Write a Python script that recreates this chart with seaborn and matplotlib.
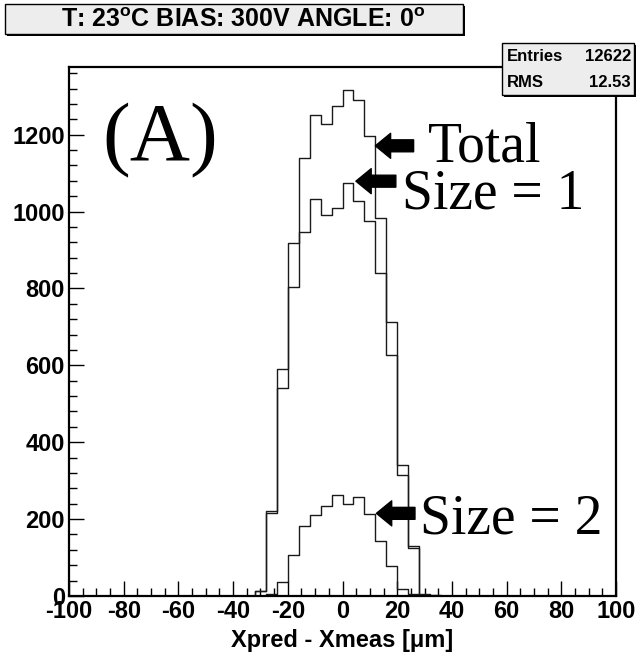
import numpy as np
import pandas as pd
import matplotlib
matplotlib.use("Agg")
import matplotlib.pyplot as plt
from matplotlib.patches import Rectangle
from matplotlib.ticker import MultipleLocator
import seaborn as sns

# Histogram contents (bin width 4 um, range -100..100)
bin_width = 4
bin_left = [-32, -28, -24, -20, -16, -12, -8, -4, 0, 4, 8, 12, 16, 20, 24, 28, 32]
total = [14, 220, 590, 919, 1138, 1250, 1228, 1274, 1315, 1289, 1196, 984, 712, 342, 131, 4, 2]
size1 = [12, 215, 542, 804, 948, 1033, 991, 1009, 1073, 1028, 976, 839, 627, 316, 124, 3, 1]
size2 = [1, 5, 37, 106, 183, 210, 233, 262, 240, 257, 214, 143, 77, 19, 4, 1, 0]

title = r"T: 23$^{\mathbf{o}}$C BIAS: 300V ANGLE: 0$^{\mathbf{o}}$"
stat_names = ["Entries", "RMS"]
stat_values = ["12622", "12.53"]
x_label = "Xpred - Xmeas [\u03bcm]"

# labels with their arrows (tip x, tip y, tail x) in data units
labels = ["Total", "Size = 1", "Size = 2"]
arrows = [(12, 1171, 26), (4.9, 1079, 19.5), (12.4, 215, 26.5)]

plt.rcParams['font.family'] = ['Liberation Sans', 'DejaVu Sans']
plt.rcParams['font.weight'] = 'bold'
plt.rcParams['axes.unicode_minus'] = False
plt.rcParams['mathtext.fontset'] = 'custom'
plt.rcParams['mathtext.bf'] = 'Liberation Sans:bold'
plt.rcParams['mathtext.rm'] = 'Liberation Sans:bold'

W, H = 637, 655
fig = plt.figure(figsize=(W / 100, H / 100), dpi=100)
ax = fig.add_axes([69 / W, 59 / H, 547 / W, 529 / H])

n_bins = 50
df = pd.DataFrame({
    "x": np.array(bin_left) + bin_width / 2,
    "total": total,
    "size1": size1,
    "size2": size2,
})
for col in ["total", "size1", "size2"]:
    sns.histplot(data=df, x="x", weights=col, bins=n_bins, binrange=(-100, 100),
                 element="step", fill=False, color="#1a1a1a", linewidth=1.0, ax=ax)

ax.set_xlim(-100, 100)
ax.set_ylim(0, 1376)
ax.set_ylabel("")
ax.set_xlabel(x_label, fontsize=17, fontweight='bold', labelpad=4)
ax.xaxis.set_major_locator(MultipleLocator(20))
ax.xaxis.set_minor_locator(MultipleLocator(5))
ax.yaxis.set_major_locator(MultipleLocator(200))
ax.yaxis.set_minor_locator(MultipleLocator(40))
ax.tick_params(which='major', direction='in', length=11, width=1, labelsize=17, pad=3)
ax.tick_params(which='minor', direction='in', length=5.5, width=1)
for lab in ax.get_xticklabels() + ax.get_yticklabels():
    lab.set_fontweight('bold')
for sp in ax.spines.values():
    sp.set_linewidth(1.6)

# panel label and curve labels
ax.text(0.166, 0.824, "(A)", transform=ax.transAxes, ha='center', va='baseline',
        fontsize=60, fontfamily='Liberation Serif', fontweight='normal')
label_pos = [(0.656, 0.821), (0.609, 0.7316), (0.642, 0.119)]
for txt, (lx, ly) in zip(labels, label_pos):
    ax.text(lx, ly, txt, transform=ax.transAxes, ha='left', va='baseline',
            fontsize=40, fontfamily='Liberation Serif', fontweight='normal')
for tx, ty, sx in arrows:
    ax.annotate("", xy=(tx, ty), xytext=(sx, ty),
                arrowprops=dict(arrowstyle="simple,head_length=11,head_width=18,tail_width=8.6",
                                mutation_scale=1, color='black', shrinkA=0, shrinkB=0))


def box(x0, y0, x1, y1):
    # pixel box from the top-left, with a ROOT style shadow
    fig.add_artist(Rectangle(((x0 + 2) / W, 1 - (y1 + 2) / H), (x1 - x0) / W, (y1 - y0) / H,
                             transform=fig.transFigure, facecolor='black', edgecolor='none', zorder=5))
    fig.add_artist(Rectangle((x0 / W, 1 - y1 / H), (x1 - x0) / W, (y1 - y0) / H,
                             transform=fig.transFigure, facecolor='#ededed', edgecolor='black',
                             linewidth=1, zorder=6))


# title box
box(5, 4, 463, 34)
fig.text(243 / W, 1 - 20 / H, title, ha='center', va='center', fontsize=18,
         fontweight='bold', zorder=7)

# stats box
box(502, 43, 634, 95)
for i, (n, v) in enumerate(zip(stat_names, stat_values)):
    yb = 1 - (61 + 26 * i) / H
    fig.text(507 / W, yb, n, ha='left', va='baseline', fontsize=12, fontweight='bold', zorder=7)
    fig.text(631 / W, yb, v, ha='right', va='baseline', fontsize=12, fontweight='bold', zorder=7)

fig.savefig("out.png", dpi=100)
